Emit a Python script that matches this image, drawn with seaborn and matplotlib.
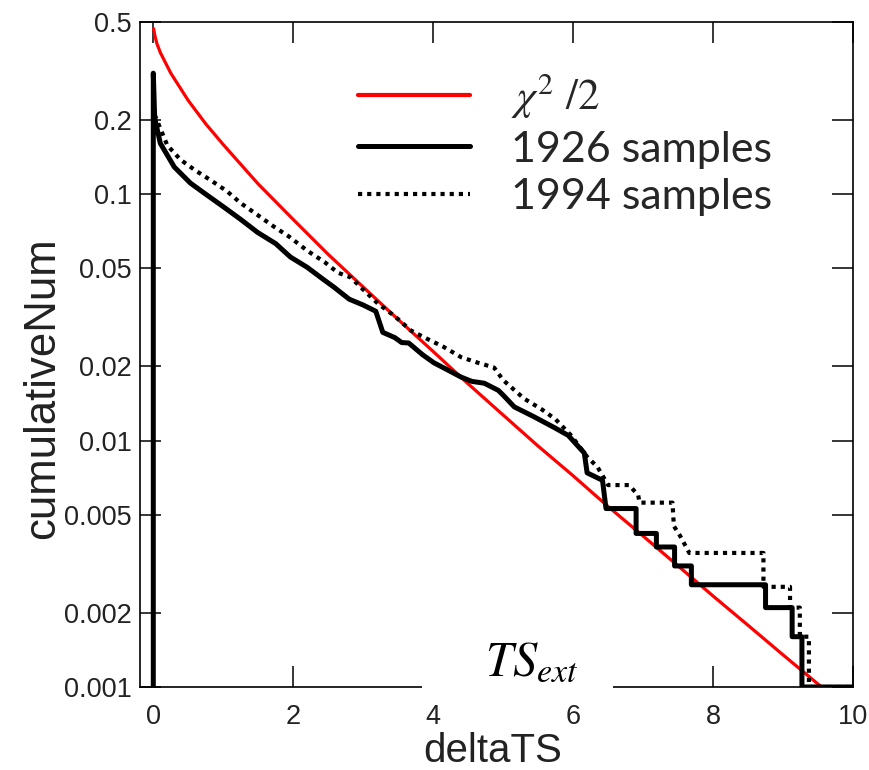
import matplotlib
matplotlib.use('Agg')
import matplotlib.pyplot as plt
import seaborn as sns
from matplotlib.patches import Rectangle
from matplotlib.ticker import NullLocator

# chi^2/2 reference curve
chi_x = [0.005, 0.02, 0.05, 0.1, 0.25, 0.5, 0.75, 1.0, 1.5, 2.0, 2.5, 3.0, 3.5,
         4.0, 4.5, 5.0, 5.5, 6.0, 6.5, 7.0, 7.5, 8.0, 8.5, 9.0, 9.55]
chi_y = [0.47, 0.444, 0.41, 0.376, 0.31, 0.24, 0.193, 0.159, 0.110, 0.079, 0.057,
         0.042, 0.031, 0.023, 0.017, 0.0127, 0.0095, 0.0072, 0.0054, 0.0041,
         0.0031, 0.00234, 0.00178, 0.00135, 0.001]

# cumulative fraction, 1926 samples
s1926_x = [0, 0, 0.02, 0.1, 0.3, 0.53, 0.75, 1.0, 1.25, 1.49, 1.75, 1.96, 2.2,
           2.44, 2.58, 2.8, 3.0, 3.18, 3.28, 3.45, 3.55, 3.65, 3.85, 4.01, 4.2,
           4.4, 4.55, 4.73, 4.93, 5.0, 5.16, 5.44, 5.73, 5.93, 6.16, 6.2, 6.42,
           6.47, 6.9, 6.9, 7.19, 7.19, 7.45, 7.45, 7.69, 7.69, 8.75, 8.75, 9.13,
           9.13, 9.27, 9.27, 10]
s1926_y = [0.001, 0.31, 0.204, 0.161, 0.129, 0.111, 0.100, 0.089, 0.079, 0.070,
           0.063, 0.0556, 0.0505, 0.0449, 0.042, 0.0375, 0.0355, 0.0335, 0.0275,
           0.0262, 0.0250, 0.0249, 0.0223, 0.0207, 0.0194, 0.0181, 0.0174,
           0.0171, 0.0160, 0.0153, 0.0137, 0.0125, 0.0113, 0.0105, 0.0089,
           0.0074, 0.0069, 0.0053, 0.0053, 0.0042, 0.0042, 0.0037, 0.0037,
           0.0031, 0.0031, 0.0026, 0.0026, 0.0021, 0.0021, 0.0016, 0.0016,
           0.001, 0.001]

# cumulative fraction, 1994 samples
s1994_x = [0.02, 0.2, 0.39, 0.6, 0.82, 1.05, 1.25, 1.5, 1.72, 1.95, 2.2, 2.45,
           2.64, 2.82, 3.0, 3.21, 3.45, 3.68, 3.9, 4.15, 4.4, 4.64, 4.87, 5.0,
           5.3, 5.55, 5.75, 5.97, 6.2, 6.35, 6.5, 6.8, 6.93, 6.95, 7.42, 7.44,
           7.53, 7.66, 8.72, 8.72, 9.1, 9.1, 9.24, 9.24, 9.37, 9.37, 10]
s1994_y = [0.21, 0.158, 0.138, 0.125, 0.114, 0.103, 0.092, 0.082, 0.074, 0.067,
           0.059, 0.053, 0.048, 0.046, 0.041, 0.036, 0.032, 0.028, 0.026, 0.024,
           0.0218, 0.0207, 0.0198, 0.0176, 0.0148, 0.0134, 0.0122, 0.0105,
           0.0086, 0.0078, 0.0066, 0.0066, 0.0060, 0.0056, 0.0056, 0.0045,
           0.0041, 0.0035, 0.0035, 0.00255, 0.00255, 0.0021, 0.0021, 0.0016,
           0.0016, 0.001, 0.001]

ytick_vals = [0.001, 0.002, 0.005, 0.01, 0.02, 0.05, 0.1, 0.2, 0.5]
ytick_labels = ['0.001', '0.002', '0.005', '0.01', '0.02', '0.05', '0.1', '0.2', '0.5']
xtick_vals = [0, 2, 4, 6, 8, 10]

sns.set_theme(style='white')
plt.rcParams['font.family'] = ['Liberation Sans', 'DejaVu Sans']
plt.rcParams['mathtext.fontset'] = 'stix'

fig = plt.figure(figsize=(8.69, 7.7), dpi=100)
ax = fig.add_axes([0.1611, 0.1078, 0.8205, 0.8636])

sns.lineplot(x=chi_x, y=chi_y, color='red', lw=2.3, estimator=None, sort=False,
             ax=ax, label=r'$\chi^2\ /2$')
sns.lineplot(x=s1926_x, y=s1926_y, color='black', lw=3.6, estimator=None,
             sort=False, ax=ax, label='1926 samples')
sns.lineplot(x=s1994_x, y=s1994_y, color='black', lw=3.0, ls=(0, (1, 1.2)),
             estimator=None, sort=False, ax=ax, label='1994 samples')

ax.set_yscale('log')
ax.set_xlim(-0.19, 10)
ax.set_ylim(0.001, 0.5)
ax.set_yticks(ytick_vals)
ax.set_yticklabels(ytick_labels)
ax.yaxis.set_minor_locator(NullLocator())
ax.set_xticks(xtick_vals)

for sp in ax.spines.values():
    sp.set_color('black')
    sp.set_linewidth(1.2)

ax.tick_params(which='major', direction='in', length=15, width=1.1,
               bottom=True, top=True, left=True, right=True,
               labelsize=19.5, labelcolor='#222222', color='black')
ax.tick_params(axis='x', pad=12)
ax.tick_params(axis='y', pad=6)

ax.set_xlabel('deltaTS', fontsize=29, color='#222222')
ax.set_ylabel('cumulativeNum', fontsize=31.5, color='#222222')
ax.xaxis.set_label_coords(0.495, -0.068)
ax.yaxis.set_label_coords(-0.108, 0.45)

leg = ax.legend(loc='upper left', bbox_to_anchor=(0.306, 0.925), frameon=False,
                prop=dict(family=['Lato', 'DejaVu Sans'], size=31),
                handlelength=2.6, handletextpad=0.95, labelspacing=0.22,
                borderpad=0, borderaxespad=0)
leg.legend_handles[0].set_linewidth(3.0)

# white patch over the axis with the TS_ext note
ax.add_patch(Rectangle((0.3955, -0.008), 0.268, 0.09, transform=ax.transAxes,
                       facecolor='white', edgecolor='none', clip_on=False, zorder=5))
ax.text(0.55, 0.018, r'$TS_{ext}$', transform=ax.transAxes, ha='center',
        va='baseline', fontsize=35, color='black', zorder=6)

fig.savefig('out.png', dpi=100)
